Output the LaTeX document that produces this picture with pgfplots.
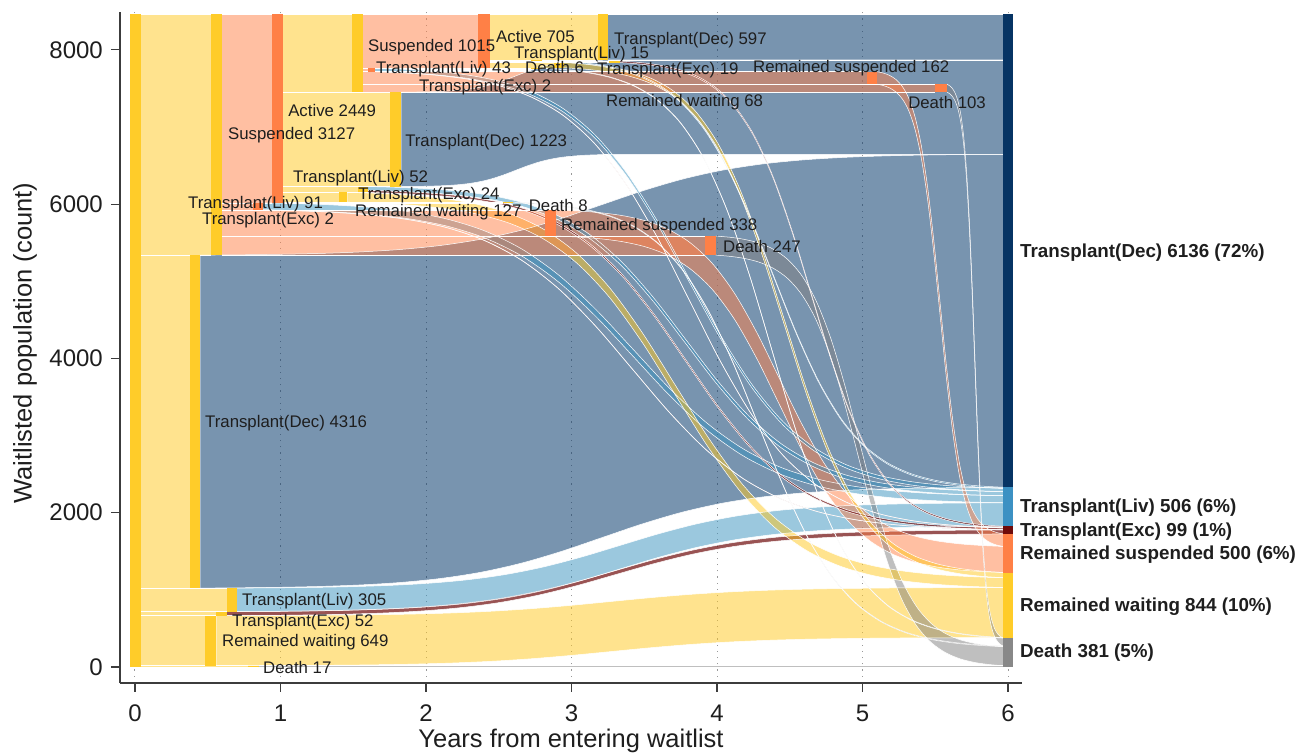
\documentclass[border=0pt]{standalone}
\usepackage{fontspec}
\setmainfont{Liberation Sans}
\usepackage{pgfplots}
\pgfplotsset{compat=1.18}
\usepgfplotslibrary{fillbetween}

\definecolor{gold}{RGB}{255,200,30}
\definecolor{goldbar}{RGB}{255,204,41}
\definecolor{orng}{RGB}{255,128,70}
\definecolor{navy}{RGB}{10,60,110}
\definecolor{navybar}{RGB}{6,52,100}
\definecolor{lblue}{RGB}{55,145,190}
\definecolor{livbar}{RGB}{60,145,195}
\definecolor{dred}{RGB}{110,10,10}
\definecolor{grey}{RGB}{128,128,128}
\definecolor{deathbar}{RGB}{136,136,136}
\definecolor{txt}{RGB}{30,30,30}
\definecolor{axisgray}{RGB}{60,60,60}

\newcounter{bandn}
% normalised connector profile (position along the link / share of the vertical move)
\def\profile{0/0,0.05/0.00298,0.1/0.00813,0.15/0.01691,0.2/0.03176,0.25/0.05649,0.3/0.09647,0.35/0.1583,0.4/0.2477,0.45/0.3648,0.5/0.5,0.55/0.6352,0.6/0.7523,0.65/0.8417,0.7/0.9035,0.75/0.9435,0.8/0.9682,0.85/0.9831,0.9/0.9919,0.95/0.9970,1/1}

\newcommand\mkcurve[5]{%
  \gdef#1{}%
  \foreach \pa/\pb in \profile {%
    \pgfmathsetmacro\xx{#2+(#3-#2)*\pa}%
    \pgfmathsetmacro\yy{#4+(#5-#4)*\pb}%
    \xdef#1{#1 (\xx,\yy)}%
  }%
}
\newcommand\emitband[2]{% colour, opacity
  \stepcounter{bandn}%
  \edef\tmp{%
    \noexpand\addplot[draw=white,line width=0.5bp,smooth,name path=u\arabic{bandn}] coordinates {\upath};%
    \noexpand\addplot[draw=white,line width=0.5bp,smooth,name path=l\arabic{bandn}] coordinates {\lpath};%
    \noexpand\addplot[fill=#1,fill opacity=#2,draw=none] fill between[of=u\arabic{bandn} and l\arabic{bandn}];%
  }\tmp
}
% \band{x0}{x1}{top0}{bot0}{top1}{bot1}{colour}{opacity}
\newcommand\band[8]{%
  \mkcurve\upath{#1}{#2}{#3}{#5}%
  \mkcurve\lpath{#1}{#2}{#4}{#6}%
  \emitband{#7}{#8}%
}
% same, with a straight tail up to x = #9
\newcommand\bandt[9]{%
  \mkcurve\upath{#1}{#2}{#3}{#5}%
  \mkcurve\lpath{#1}{#2}{#4}{#6}%
  \xdef\upath{\upath\space(#9,#5)}%
  \xdef\lpath{\lpath\space(#9,#6)}%
  \emitband{#7}{#8}%
}
% \rect{x0}{x1}{bottom}{top}{colour}{opacity}
\newcommand\rect[6]{%
  \addplot[fill=#5,fill opacity=#6,draw=none] coordinates {(#1,#3) (#2,#3) (#2,#4) (#1,#4)} -- cycle;
  \addplot[white,line width=0.5bp] coordinates {(#1,#3) (#2,#3)};
  \addplot[white,line width=0.5bp] coordinates {(#1,#4) (#2,#4)};
}
\newcommand\ebar[5]{%
  \addplot[fill=#5,draw=none] coordinates {(#1,#3) (#2,#3) (#2,#4) (#1,#4)} -- cycle;
}
\newcommand\lfont{\fontsize{16.8bp}{19bp}\selectfont}
\newcommand\lab[3]{\node[anchor=west,inner sep=0pt,font=\lfont,text=txt] at (axis cs:#1,#2) {#3};}
\newcommand\rlab[2]{\node[anchor=west,inner sep=0pt,font=\fontsize{18.8bp}{22bp}\selectfont\bfseries,text=txt] at (axis cs:6.082,#1) {#2};}

\begin{document}
\begin{tikzpicture}
\begin{axis}[
  scale only axis, width=902bp, height=671bp,
  xmin=-0.103, xmax=6.096, ymin=-207, ymax=8490,
  axis x line*=bottom, axis y line*=left,
  axis line style={draw=axisgray, line width=1.2bp},
  xtick={0,1,2,3,4,5,6}, ytick={0,2000,4000,6000,8000},
  tick align=outside, major tick length=9bp,
  tick style={draw=axisgray, line width=1.2bp},
  xmajorgrids,
  major x grid style={draw=gray!80, line width=1bp, dash pattern=on 1.2bp off 5bp},
  /pgf/number format/assume math mode=true,
  /pgf/number format/1000 sep={},
  ticklabel style={font=\fontsize{24bp}{28bp}\selectfont, text=txt},
  xticklabel style={inner sep=0pt, anchor=north, yshift=-13bp},
  yticklabel style={inner sep=0pt, anchor=east, xshift=-8bp},
  xlabel={Years from entering waitlist},
  ylabel={Waitlisted population (count)},
  label style={font=\fontsize{25.5bp}{30bp}\selectfont, text=txt},
  xlabel style={at={(axis description cs:0.5,-0.0864)}, anchor=center},
  ylabel style={at={(axis description cs:-0.1053,0.5067)}, anchor=center},
  clip=false,
]
% ---- first node (all waiting), pre-event segments
\rect{0.041}{0.52}{5339}{8466}{gold}{0.5}
\rect{0.041}{0.38}{1023}{5339}{gold}{0.5}
\rect{0.041}{0.63}{718}{1023}{gold}{0.5}
\rect{0.041}{0.56}{666}{718}{gold}{0.5}
\rect{0.041}{0.48}{17}{666}{gold}{0.5}
\rect{0.041}{0.78}{0}{17}{gold}{0.5}
% ---- Suspended 3127
\rect{0.60}{0.94}{6017}{8466}{orng}{0.5}
\rect{0.60}{0.81}{5924}{6017}{orng}{0.5}
\rect{0.60}{2.82}{5586}{5924}{orng}{0.5}
\rect{0.60}{3.92}{5339}{5586}{orng}{0.5}
% ---- Active 2449
\rect{1.02}{1.49}{7451}{8466}{gold}{0.5}
\rect{1.02}{1.75}{6228}{7451}{gold}{0.5}
\rect{1.02}{1.53}{6152}{6228}{gold}{0.5}
\rect{1.02}{1.40}{6025}{6152}{gold}{0.5}
\rect{1.02}{2.53}{6017}{6025}{gold}{0.5}
% ---- Suspended 1015
\rect{1.57}{2.36}{7761}{8466}{orng}{0.5}
\rect{1.57}{1.60}{7716}{7761}{orng}{0.5}
\rect{1.57}{5.03}{7554}{7716}{orng}{0.5}
\rect{1.57}{5.50}{7451}{7554}{orng}{0.5}
% ---- Active 705
\rect{2.44}{3.18}{7869}{8466}{gold}{0.5}
\rect{2.44}{2.72}{7854}{7869}{gold}{0.5}
\rect{2.44}{3.26}{7835}{7854}{gold}{0.5}
\rect{2.44}{2.88}{7767}{7835}{gold}{0.5}
\rect{2.44}{2.72}{7761}{7767}{gold}{0.5}
% ---- deceased-donor transplant straight part
\rect{3.25}{5.966}{7869}{8466}{navy}{0.55}
% ---- curved links to the outcomes
\band{0.45}{5.966}{5339}{1023}{6646}{2330}{navy}{0.55}
\bandt{1.83}{3.40}{7451}{6228}{7869}{6646}{navy}{0.55}{5.966}
\band{0.70}{5.966}{1023}{718}{2129}{1824}{lblue}{0.5}
\band{0.63}{5.966}{718}{666}{1777}{1725}{dred}{0.7}
\band{0.56}{5.966}{666}{17}{1030}{381}{gold}{0.5}
\band{0.85}{5.966}{17}{0}{17}{0}{grey}{0.5}
\band{0.88}{5.966}{6017}{5926}{2220}{2129}{lblue}{0.5}
\band{0.88}{5.966}{5926}{5924}{1779}{1777}{dred}{0.7}
\band{2.89}{5.966}{5924}{5586}{1563}{1225}{orng}{0.5}
\band{3.99}{5.966}{5586}{5339}{264}{17}{grey}{0.5}
\band{1.60}{5.966}{6228}{6176}{2272}{2220}{lblue}{0.5}
\band{1.60}{5.966}{6176}{6152}{1803}{1779}{dred}{0.7}
\band{1.46}{5.966}{6152}{6025}{1157}{1030}{gold}{0.5}
\band{2.60}{5.966}{6025}{6017}{272}{264}{grey}{0.5}
\band{1.65}{5.966}{7761}{7718}{2315}{2272}{lblue}{0.5}
\band{1.65}{5.966}{7718}{7716}{1805}{1803}{dred}{0.7}
\band{5.10}{5.966}{7716}{7554}{1725}{1563}{orng}{0.5}
\band{5.58}{5.966}{7554}{7451}{375}{272}{grey}{0.5}
\band{2.80}{5.966}{7869}{7854}{2330}{2315}{lblue}{0.5}
\band{3.33}{5.966}{7854}{7835}{1824}{1805}{dred}{0.7}
\band{2.95}{5.966}{7835}{7767}{1225}{1157}{gold}{0.5}
\band{2.80}{5.966}{7767}{7761}{381}{375}{grey}{0.5}
% ---- event bars
\ebar{-0.034}{0.041}{0}{8466}{goldbar}
\ebar{0.52}{0.60}{5339}{8466}{goldbar}
\ebar{0.38}{0.45}{1023}{5339}{goldbar}
\ebar{0.63}{0.70}{718}{1023}{goldbar}
\ebar{0.56}{0.63}{666}{718}{goldbar}
\ebar{0.48}{0.56}{17}{666}{goldbar}
\ebar{0.78}{0.85}{0}{17}{goldbar}
\ebar{0.94}{1.02}{6017}{8466}{orng}
\ebar{0.81}{0.88}{5924}{6017}{orng}
\ebar{2.82}{2.89}{5586}{5924}{orng}
\ebar{3.92}{3.99}{5339}{5586}{orng}
\ebar{1.49}{1.57}{7451}{8466}{goldbar}
\ebar{1.75}{1.83}{6228}{7451}{goldbar}
\ebar{1.53}{1.60}{6152}{6228}{goldbar}
\ebar{1.40}{1.46}{6025}{6152}{goldbar}
\ebar{2.53}{2.60}{6017}{6025}{goldbar}
\ebar{2.36}{2.44}{7761}{8466}{orng}
\ebar{1.60}{1.65}{7716}{7761}{orng}
\ebar{5.03}{5.10}{7554}{7716}{orng}
\ebar{5.50}{5.58}{7451}{7554}{orng}
\ebar{3.18}{3.25}{7869}{8466}{goldbar}
\ebar{2.72}{2.80}{7854}{7869}{goldbar}
\ebar{3.26}{3.33}{7835}{7854}{goldbar}
\ebar{2.88}{2.95}{7767}{7835}{goldbar}
\ebar{2.72}{2.80}{7761}{7767}{goldbar}
% ---- outcome bars
\ebar{5.966}{6.034}{2330}{8466}{navybar}
\ebar{5.966}{6.034}{1824}{2330}{livbar}
\ebar{5.966}{6.034}{1725}{1824}{dred}
\ebar{5.966}{6.034}{1225}{1725}{orng}
\ebar{5.966}{6.034}{381}{1225}{goldbar}
\ebar{5.966}{6.034}{0}{381}{deathbar}
% ---- labels
\lab{0.639}{6895}{Suspended 3127}
\lab{1.052}{7219}{Active 2449}
\lab{1.601}{8035}{Suspended 1015}
\lab{2.481}{8178}{Active 705}
\lab{3.292}{8126}{Transplant(Dec) 597}
\lab{2.605}{7940}{Transplant(Liv) 15}
\lab{1.656}{7750}{Transplant(Liv) 43}
\lab{2.680}{7765}{Death 6}
\lab{3.175}{7737}{Transplant(Exc) 19}
\lab{4.247}{7763}{Remained suspended 162}
\lab{1.952}{7520}{Transplant(Exc) 2}
\lab{3.237}{7322}{Remained waiting 68}
\lab{5.313}{7322}{Death 103}
\lab{1.856}{6804}{Transplant(Dec) 1223}
\lab{1.086}{6330}{Transplant(Liv) 52}
\lab{1.533}{6117}{Transplant(Exc) 24}
\lab{0.364}{6000}{Transplant(Liv) 91}
\lab{1.512}{5890}{Remained waiting 127}
\lab{2.705}{5988}{Death 8}
\lab{0.460}{5793}{Transplant(Exc) 2}
\lab{2.928}{5715}{Remained suspended 338}
\lab{4.041}{5456}{Death 247}
\lab{0.481}{3162}{Transplant(Dec) 4316}
\lab{0.735}{855}{Transplant(Liv) 305}
\lab{0.667}{583}{Transplant(Exc) 52}
\lab{0.598}{324}{Remained waiting 649}
\lab{0.880}{0}{Death 17}
\rlab{5365}{Transplant(Dec) 6136 (72\%)}
\rlab{2061}{Transplant(Liv) 506 (6\%)}
\rlab{1750}{Transplant(Exc) 99 (1\%)}
\rlab{1452}{Remained suspended 500 (6\%)}
\rlab{778}{Remained waiting 844 (10\%)}
\rlab{181}{Death 381 (5\%)}
\end{axis}
\pgfresetboundingbox
\path[use as bounding box] (-120bp,-71bp) rectangle (1184bp,683bp);
\end{tikzpicture}
\end{document}
